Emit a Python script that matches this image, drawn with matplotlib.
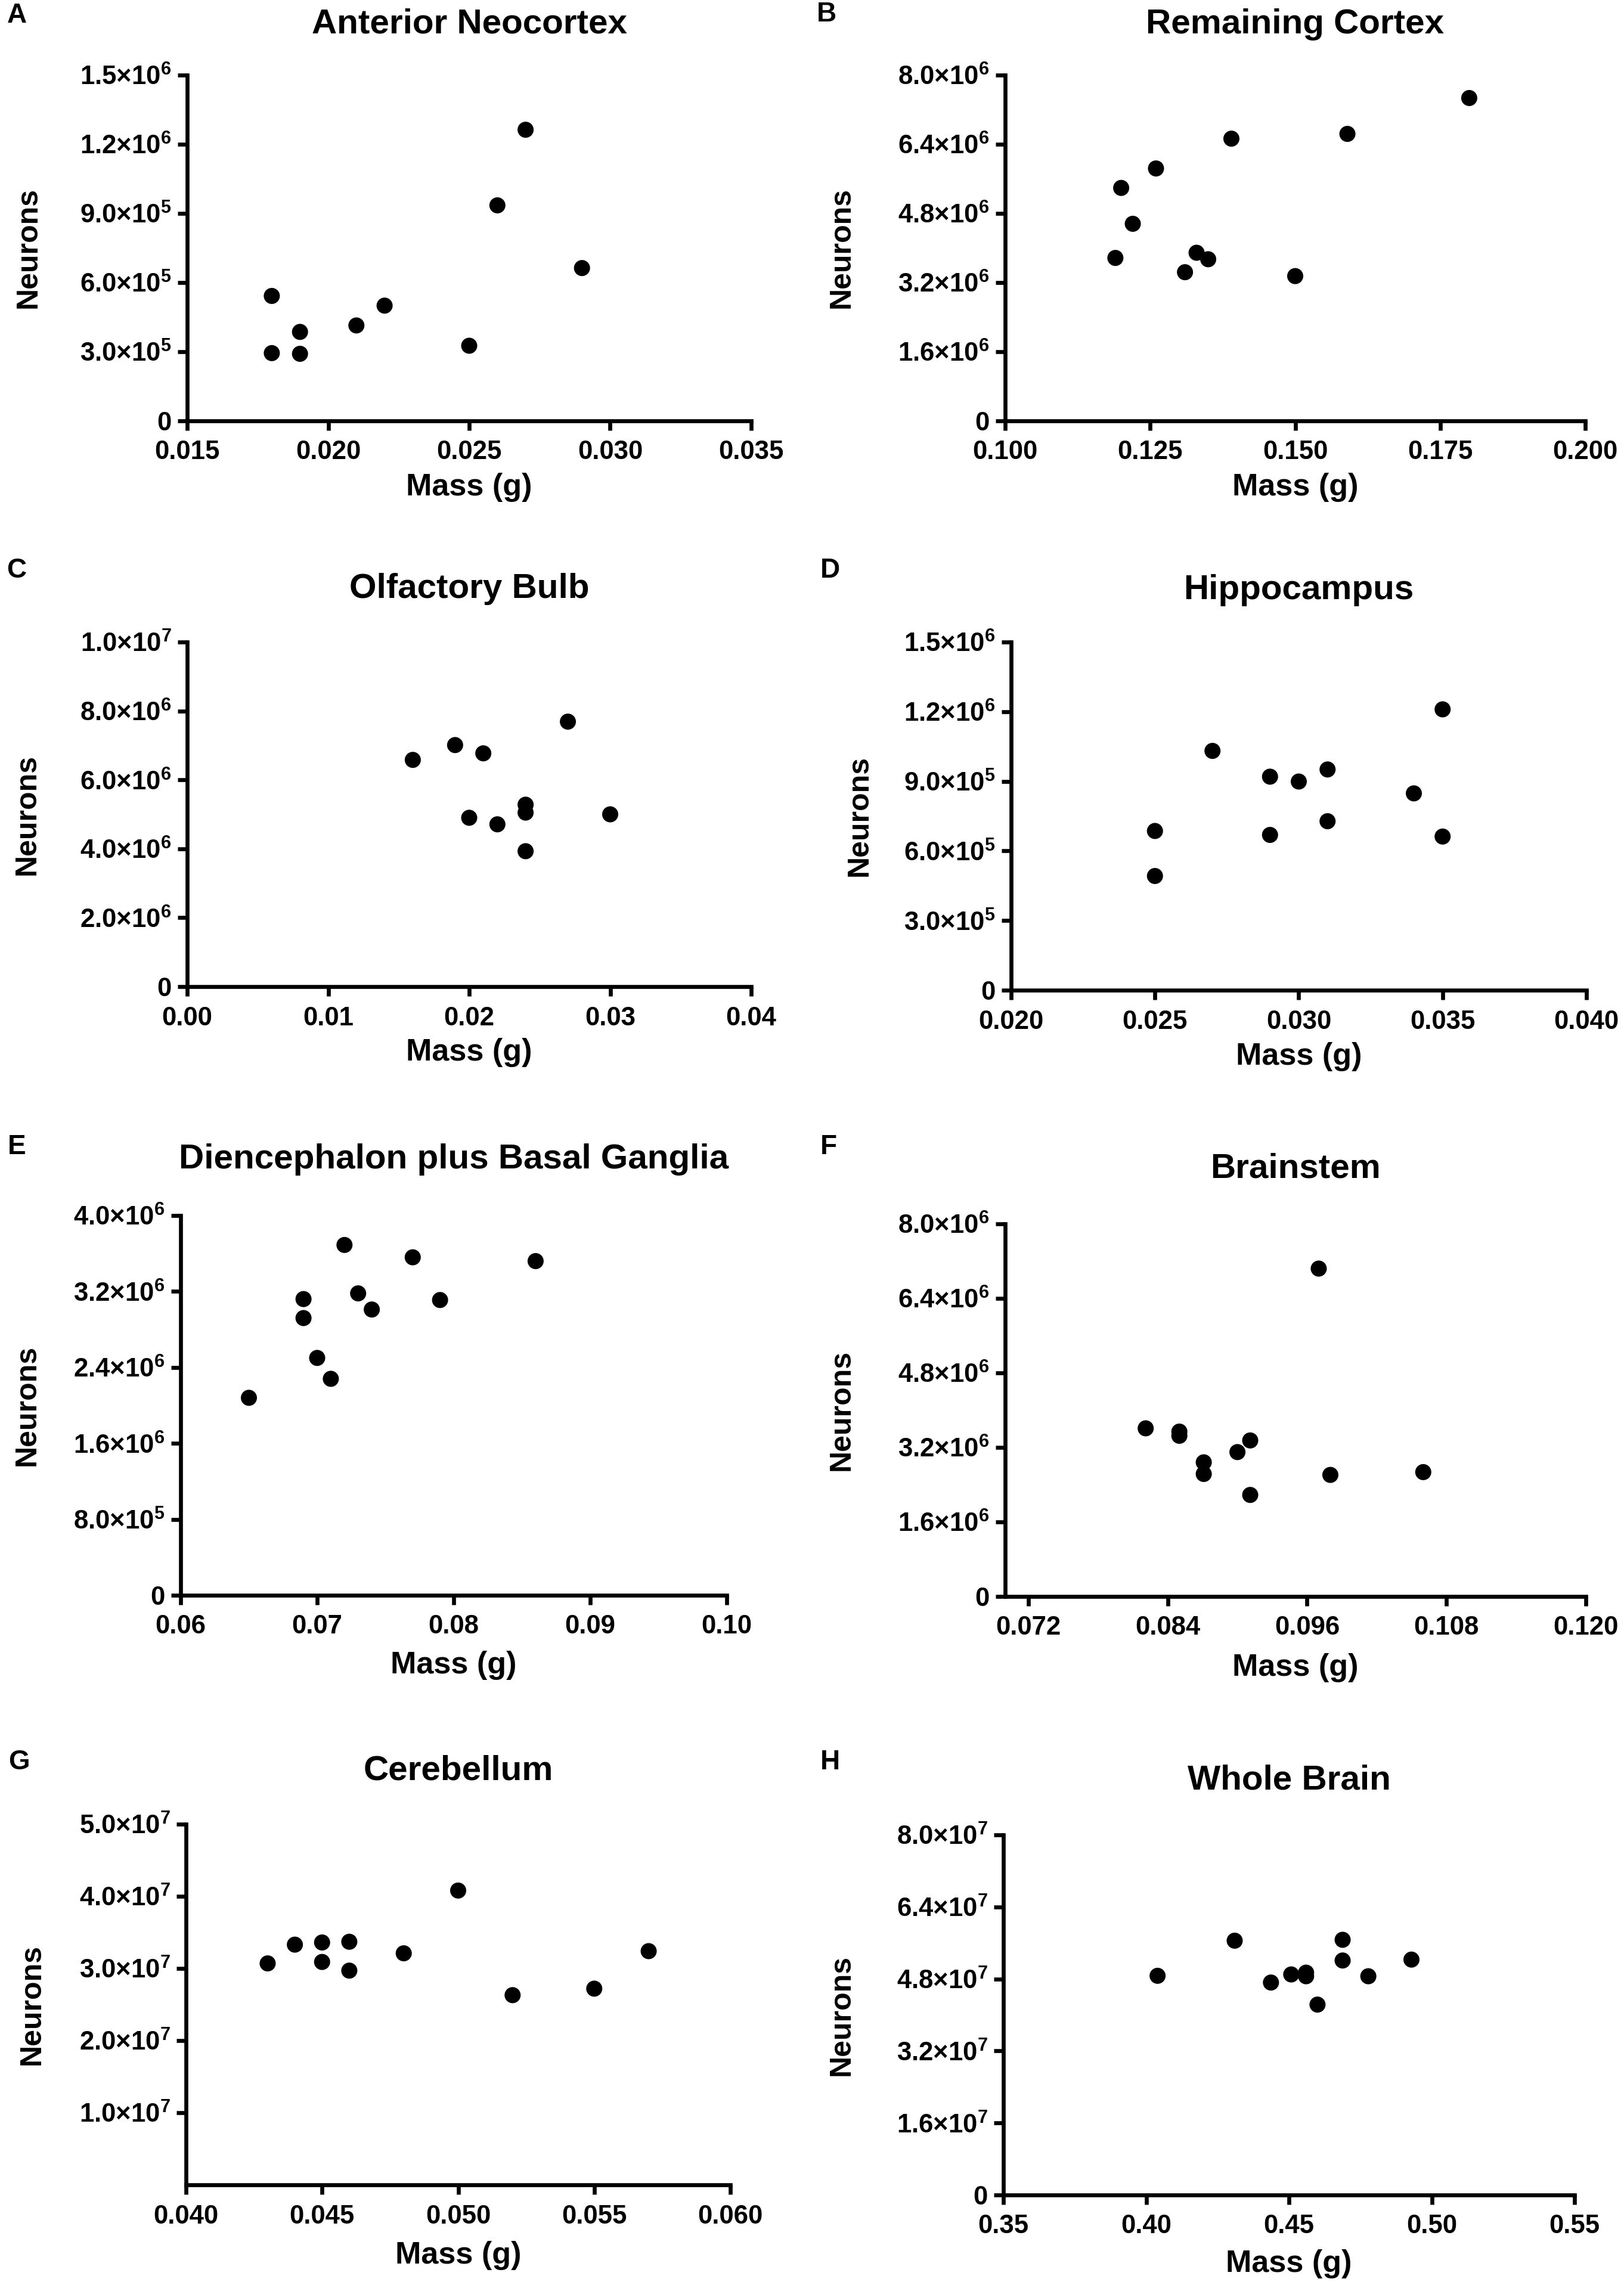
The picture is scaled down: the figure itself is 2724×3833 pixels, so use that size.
import numpy as np
import matplotlib
matplotlib.use("Agg")
import matplotlib.pyplot as plt
from matplotlib.ticker import FixedLocator, FuncFormatter

plt.rcParams['font.family'] = ['Liberation Sans', 'DejaVu Sans']
plt.rcParams['font.weight'] = 'bold'
plt.rcParams['mathtext.fontset'] = 'custom'
plt.rcParams['mathtext.rm'] = 'Liberation Sans:bold'
plt.rcParams['mathtext.bf'] = 'Liberation Sans:bold'
plt.rcParams['mathtext.it'] = 'Liberation Sans:bold'

# ---- data (mass in g, neuron counts) ----
ant_neo_mass = [0.018, 0.018, 0.019, 0.019, 0.021, 0.022, 0.025, 0.026, 0.027, 0.029]
ant_neo_neurons = [2.94e5, 5.42e5, 3.86e5, 2.91e5, 4.14e5, 5.0e5, 3.26e5, 9.35e5, 1.263e6, 6.63e5]

rem_ctx_mass = [0.119, 0.120, 0.122, 0.126, 0.131, 0.133, 0.135, 0.139, 0.150, 0.159, 0.180]
rem_ctx_neurons = [3.77e6, 5.39e6, 4.56e6, 5.84e6, 3.44e6, 3.89e6, 3.74e6, 6.53e6, 3.35e6, 6.64e6, 7.47e6]

olf_mass = [0.016, 0.019, 0.021, 0.027, 0.020, 0.022, 0.024, 0.024, 0.024, 0.030]
olf_neurons = [6.58e6, 7.01e6, 6.77e6, 7.69e6, 4.90e6, 4.71e6, 5.28e6, 5.05e6, 3.93e6, 5.0e6]

hip_mass = [0.025, 0.025, 0.027, 0.029, 0.029, 0.030, 0.031, 0.031, 0.034, 0.035, 0.035]
hip_neurons = [6.86e5, 4.92e5, 1.031e6, 9.2e5, 6.69e5, 8.99e5, 9.51e5, 7.28e5, 8.48e5, 1.21e6, 6.62e5]

dien_mass = [0.065, 0.069, 0.069, 0.070, 0.071, 0.072, 0.073, 0.074, 0.077, 0.079, 0.086]
dien_neurons = [2.08e6, 3.12e6, 2.92e6, 2.50e6, 2.28e6, 3.69e6, 3.18e6, 3.01e6, 3.56e6, 3.11e6, 3.52e6]

bstem_mass = [0.0821, 0.085, 0.085, 0.0871, 0.0871, 0.090, 0.0911, 0.0911, 0.097, 0.098, 0.106]
bstem_neurons = [3.61e6, 3.54e6, 3.45e6, 2.88e6, 2.63e6, 3.10e6, 3.35e6, 2.18e6, 7.04e6, 2.61e6, 2.67e6]

cereb_mass = [0.043, 0.044, 0.045, 0.045, 0.046, 0.046, 0.048, 0.050, 0.052, 0.055, 0.057]
cereb_neurons = [3.07e7, 3.33e7, 3.36e7, 3.09e7, 3.37e7, 2.97e7, 3.21e7, 4.08e7, 2.63e7, 2.72e7, 3.24e7]

whole_mass = [0.404, 0.431, 0.4437, 0.4508, 0.456, 0.456, 0.460, 0.4688, 0.4688, 0.4778, 0.4929]
whole_neurons = [4.87e7, 5.65e7, 4.72e7, 4.90e7, 4.94e7, 4.86e7, 4.23e7, 5.67e7, 5.21e7, 4.86e7, 5.23e7]

titles = ['Anterior Neocortex', 'Remaining Cortex', 'Olfactory Bulb', 'Hippocampus',
          'Diencephalon plus Basal Ganglia', 'Brainstem', 'Cerebellum', 'Whole Brain']
letters = ['A', 'B', 'C', 'D', 'E', 'F', 'G', 'H']

xticks_all = [
    [0.015, 0.020, 0.025, 0.030, 0.035],
    [0.100, 0.125, 0.150, 0.175, 0.200],
    [0.00, 0.01, 0.02, 0.03, 0.04],
    [0.020, 0.025, 0.030, 0.035, 0.040],
    [0.06, 0.07, 0.08, 0.09, 0.10],
    [0.072, 0.084, 0.096, 0.108, 0.120],
    [0.040, 0.045, 0.050, 0.055, 0.060],
    [0.35, 0.40, 0.45, 0.50, 0.55],
]
xdec = [3, 3, 2, 3, 2, 3, 3, 2]
xlims = [(0.015, 0.035), (0.100, 0.200), (0.0, 0.04), (0.020, 0.040),
         (0.06, 0.10), (0.070, 0.120), (0.040, 0.060), (0.35, 0.55)]
yticks_all = [
    [0, 3e5, 6e5, 9e5, 1.2e6, 1.5e6],
    [0, 1.6e6, 3.2e6, 4.8e6, 6.4e6, 8.0e6],
    [0, 2e6, 4e6, 6e6, 8e6, 1e7],
    [0, 3e5, 6e5, 9e5, 1.2e6, 1.5e6],
    [0, 8e5, 1.6e6, 2.4e6, 3.2e6, 4.0e6],
    [0, 1.6e6, 3.2e6, 4.8e6, 6.4e6, 8.0e6],
    [1e7, 2e7, 3e7, 4e7, 5e7],
    [0, 1.6e7, 3.2e7, 4.8e7, 6.4e7, 8.0e7],
]
ytops = [1.5e6, 8.0e6, 1e7, 1.5e6, 4.0e6, 8.0e6, 5e7, 8.0e7]

series = [(ant_neo_mass, ant_neo_neurons), (rem_ctx_mass, rem_ctx_neurons),
          (olf_mass, olf_neurons), (hip_mass, hip_neurons),
          (dien_mass, dien_neurons), (bstem_mass, bstem_neurons),
          (cereb_mass, cereb_neurons), (whole_mass, whole_neurons)]

# ---- layout, in pixels of the 2724x3833 canvas ----
W, H = 2724, 3833
boxes = [(314, 1260, 126, 706), (1686, 2659, 126, 706),
         (314, 1260, 1077, 1655), (1696, 2661, 1077, 1661),
         (303, 1219, 2039, 2676), (1686, 2660, 2053, 2678),
         (312, 1225, 3060, 3665), (1683, 2641, 3078, 3682)]
title_y = [41, 41, 988, 990, 1945, 1960, 2971, 2986]
xlabel_y = [818, 818, 1766, 1773, 2794, 2798, 3784, 3798]
ylabel_x = [48, 1412, 46, 1442, 46, 1412, 54, 1412]
letter_xy = [(28, 26), (1386, 24), (28, 957), (1392, 957),
             (28, 1924), (1390, 1924), (32, 2956), (1392, 2956)]


def sci_label(v, pos=None):
    if v == 0:
        return '0'
    e = int(np.floor(np.log10(v) + 1e-9))
    m = v / 10 ** e
    return r'$%.1f{\times}10^{%d}$' % (m, e)


def fx(px):
    return px / W


def fy(py):
    return 1 - py / H


fig = plt.figure(figsize=(W / 300, H / 300), dpi=300)

for i in range(8):
    x0, x1, yt, yb = boxes[i]
    ax = fig.add_axes([fx(x0), fy(yb), (x1 - x0) / W, (yb - yt) / H])
    mx, ny = series[i]
    ax.scatter(mx, ny, s=42, color='black', edgecolors='none', zorder=3, clip_on=False)
    ax.set_xlim(*xlims[i])
    ax.set_ylim(0, ytops[i])
    ax.xaxis.set_major_locator(FixedLocator(xticks_all[i]))
    ax.yaxis.set_major_locator(FixedLocator(yticks_all[i]))
    d = xdec[i]
    ax.xaxis.set_major_formatter(FuncFormatter(lambda v, p, d=d: '%.*f' % (d, v)))
    ax.yaxis.set_major_formatter(FuncFormatter(sci_label))
    for s in ['top', 'right']:
        ax.spines[s].set_visible(False)
    for s in ['left', 'bottom']:
        ax.spines[s].set_linewidth(1.6)
    ax.tick_params(direction='out', length=3.8, width=1.6, labelsize=10.5, pad=2.5)
    ax.tick_params(axis='x', pad=4)

    cx = fx((x0 + x1) / 2)
    fig.text(cx, fy(title_y[i]), titles[i], ha='center', va='center',
             fontsize=14, fontweight='bold')
    fig.text(cx, fy(xlabel_y[i]), 'Mass (g)', ha='center', va='center',
             fontsize=12.5, fontweight='bold')
    fig.text(fx(ylabel_x[i]), fy((yt + yb) / 2), 'Neurons', ha='center', va='center',
             rotation=90, fontsize=12, fontweight='bold')
    lx, ly = letter_xy[i]
    fig.text(fx(lx), fy(ly), letters[i], ha='center', va='center',
             fontsize=11, fontweight='bold')

fig.savefig('out.png', dpi=300)
